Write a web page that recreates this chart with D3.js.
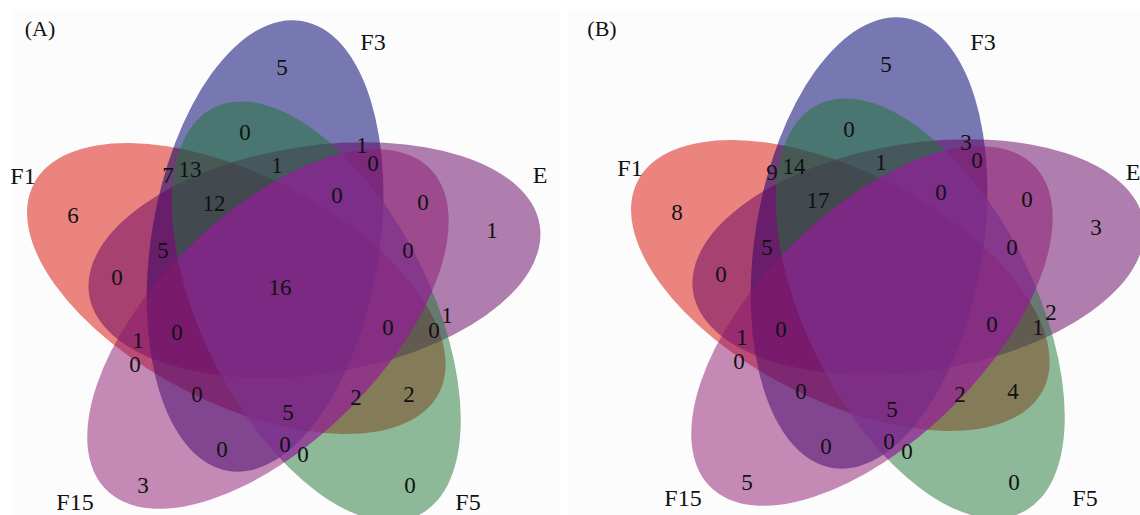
<!DOCTYPE html>
<html>
<head>
<meta charset="utf-8">
<script src="https://cdn.jsdelivr.net/npm/d3@7/dist/d3.min.js"></script>
<style>
  body { margin: 0; background: #fff; }
  text { font-family: "Liberation Serif", "Times New Roman", serif; fill: #111; }
</style>
</head>
<body>
<svg id="chart" width="1140" height="515"></svg>
<script>
// set names, clockwise starting with the top lobe
var sets = ["F3", "E", "F5", "F15", "F1"];

// every region of the 5-set diagram, as indices into sets
var regions = [
  [0], [1], [2], [3], [4],
  [0,1], [1,2], [2,3], [3,4], [4,0],
  [0,2], [1,3], [2,4], [3,0], [4,1],
  [0,1,3], [1,2,4], [2,3,0], [3,4,1], [4,0,2],
  [0,1,2], [1,2,3], [2,3,4], [3,4,0], [4,0,1],
  [0,1,2,3], [1,2,3,4], [2,3,4,0], [3,4,0,1], [4,0,1,2],
  [0,1,2,3,4]
];

// counts per region, panel A and panel B (B has no count printed in the middle)
var countsA = [5, 1, 0, 3, 6,  1, 1, 0, 0, 7,  0, 0, 2, 0, 0,  0, 0, 0, 1, 13,  1, 0, 2, 0, 5,  0, 0, 5, 0, 12,  16];
var countsB = [5, 3, 0, 5, 8,  3, 2, 0, 0, 9,  0, 0, 4, 0, 0,  0, 1, 0, 1, 14,  1, 0, 2, 0, 5,  0, 0, 5, 0, 17,  null];

var panelTags = ["(A)", "(B)"];

// ---- layout (diagram units, origin = middle of the flower) ----
var fill = { F3: "#00006e", E: "#610061", F5: "#1e7534", F15: "#8b156d", F1: "#d90900" };
var alpha = { F3: 0.53, E: 0.5, F5: 0.5, F15: 0.5, F1: 0.5 };
var drawOrder = [4, 0, 1, 2, 3];
// the F15 / F5 overlap reads much more purple in the original, tint it
var tint = { color: "#9b21bb", alpha: 0.4 };

var ell = { dist: 43.7, offAngle: -110, rot: 9.25, a: 114, b: 228 };

// where each region's number sits, same order as regions
var labelAt = [
  [2,-220], [212,-57], [130,198], [-137,198], [-207,-72],
  [82,-142], [167,28], [23,167], [-145,77], [-112,-112],
  [-35,-155], [143,-85], [129,107], [-58,162], [-163,-10],
  [93,-124], [154,43], [5,157], [-142,53], [-90,-118],
  [-3,-122], [128,-37], [76,110], [-83,107], [-117,-37],
  [57,-92], [108,40], [8,125], [-103,45], [-66,-84],
  [0,0]
];

var panels = [
  { counts: countsA, tag: panelTags[0], cx: 280, cy: 287, bg: [12, 560], tagAt: [40, 28],
    setAt: [[93,-245], [260,-112], [188,215], [-205,215], [-257,-111]] },
  { counts: countsB, tag: panelTags[1], cx: 884, cy: 284, bg: [568, 1140], tagAt: [602, 28],
    setAt: [[99,-242], [249,-112], [201,214], [-201,214], [-254,-116]] }
];

var svg = d3.select("#chart");
var defs = svg.append("defs");

function ellipseGeom(k, x, y){
  var ang = (ell.offAngle + 72*k) * Math.PI/180;
  var ex = x(ell.dist*Math.cos(ang)), ey = y(ell.dist*Math.sin(ang));
  return { cx: ex, cy: ey, rx: x(ell.a) - x(0), ry: y(ell.b) - y(0),
           tr: "rotate(" + (ell.rot + 72*k) + "," + ex + "," + ey + ")" };
}

function putEllipse(sel, e){
  return sel.attr("cx", e.cx).attr("cy", e.cy)
    .attr("rx", e.rx).attr("ry", e.ry)
    .attr("transform", e.tr);
}

panels.forEach(function(p, pi){
  var x = d3.scaleLinear().domain([-300, 300]).range([p.cx - 300, p.cx + 300]);
  var y = d3.scaleLinear().domain([-300, 300]).range([p.cy - 300, p.cy + 300]);

  svg.append("rect")
    .attr("x", p.bg[0]).attr("y", 10)
    .attr("width", p.bg[1] - p.bg[0]).attr("height", 505)
    .attr("fill", "#fcfcfc");

  var g = svg.append("g");

  //ellipses
  g.selectAll("ellipse.set")
    .data(drawOrder)
    .enter()
    .append("ellipse")
    .attr("class", "set")
    .each(function(k){
      putEllipse(d3.select(this), ellipseGeom(k, x, y))
        .attr("fill", fill[sets[k]])
        .attr("fill-opacity", alpha[sets[k]]);
    });

  //tint over F15 ∩ F5 (clip on a plain group so the ellipse rotation is not applied twice)
  var clipId = "clipF5_" + pi;
  putEllipse(defs.append("clipPath").attr("id", clipId).append("ellipse"),
             ellipseGeom(sets.indexOf("F5"), x, y));
  putEllipse(g.append("g").attr("clip-path", "url(#" + clipId + ")").append("ellipse"),
             ellipseGeom(sets.indexOf("F15"), x, y))
    .attr("fill", tint.color)
    .attr("fill-opacity", tint.alpha);

  //region numbers
  g.selectAll("text.count")
    .data(regions.map(function(r, i){ return { v: p.counts[i], at: labelAt[i] }; })
      .filter(function(d){ return d.v !== null; }))
    .enter()
    .append("text")
    .attr("class", "count")
    .attr("x", function(d){ return x(d.at[0]); })
    .attr("y", function(d){ return y(d.at[1]); })
    .attr("text-anchor", "middle")
    .attr("dominant-baseline", "central")
    .attr("font-size", 23)
    .text(function(d){ return d.v; });

  //set names
  g.selectAll("text.setname")
    .data(sets)
    .enter()
    .append("text")
    .attr("class", "setname")
    .attr("x", function(d, i){ return x(p.setAt[i][0]); })
    .attr("y", function(d, i){ return y(p.setAt[i][1]); })
    .attr("text-anchor", "middle")
    .attr("dominant-baseline", "central")
    .attr("font-size", 24)
    .text(function(d){ return d; });

  svg.append("text")
    .attr("x", p.tagAt[0]).attr("y", p.tagAt[1])
    .attr("text-anchor", "middle")
    .attr("dominant-baseline", "central")
    .attr("font-size", 22)
    .text(p.tag);
});
</script>
</body>
</html>
